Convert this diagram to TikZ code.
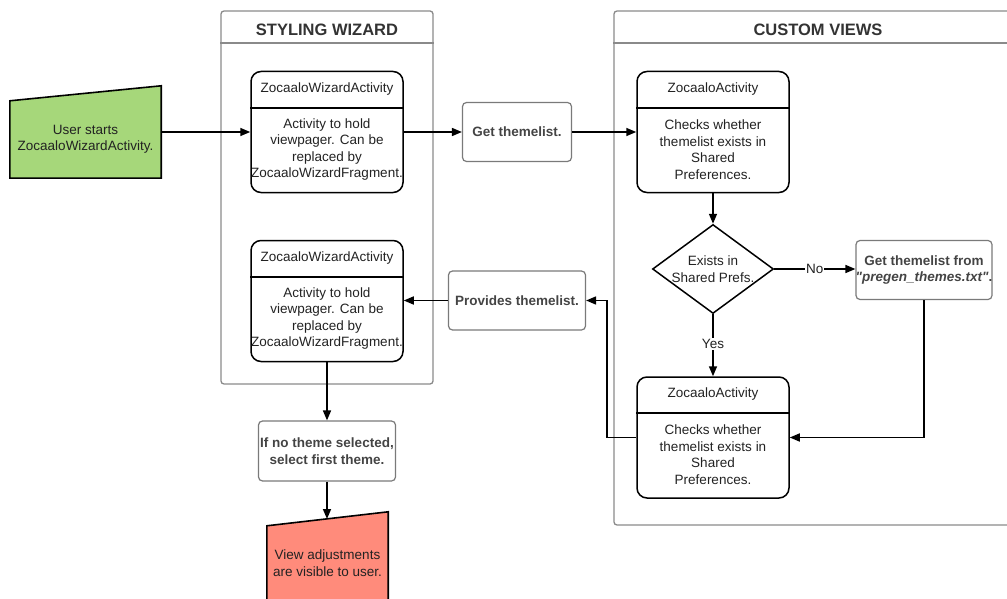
\documentclass[tikz,border=0pt]{standalone}
\usepackage{fontspec}
\setmainfont{Liberation Sans}
\newfontfamily\qfont{Liberation Sans}
\usetikzlibrary{shapes.geometric,arrows.meta}
\definecolor{startgreen}{HTML}{A6D77A}
\definecolor{endred}{HTML}{FF8B7B}
\definecolor{contgray}{HTML}{8A8A8A}
\definecolor{boxgray}{HTML}{7A7A7A}
\definecolor{txtdark}{HTML}{222222}
\definecolor{txtbold}{HTML}{444444}
\tikzset{
  txt/.style={font=\fontsize{13.5}{16.5}\selectfont, text=txtdark, align=center, inner sep=0pt},
  boldtxt/.style={font=\bfseries\fontsize{13.5}{16.5}\selectfont, text=txtbold, align=center, inner sep=0pt},
  titletxt/.style={font=\bfseries\fontsize{16.5}{19}\selectfont, text=black!80, inner sep=0pt},
  cont/.style={draw=contgray, line width=1.3pt, rounded corners=3pt, inner sep=0pt},
  actbox/.style={draw=black, line width=1.5pt, rounded corners=10pt, minimum width=152pt, minimum height=121pt, inner sep=0pt},
  procbox/.style={draw=boxgray, line width=1.2pt, rounded corners=4pt, inner sep=0pt},
  conn/.style={line width=1.6pt, draw=black},
  arr/.style={conn, -{Triangle[length=10pt,width=8pt]}},
  lbl/.style={txt, fill=white, inner sep=1pt},
}
\begin{document}
\begin{tikzpicture}[x=1pt,y=-1pt]
\useasboundingbox (0,0) rectangle (1007,599);
% containers
\node[cont, minimum width=212pt, minimum height=373pt] (sw) at (327,197.5) {};
\draw[contgray, line width=1.3pt] (sw.west |- 0,43) -- (sw.east |- 0,43);
\node[titletxt] (swt) at (327,30) {STYLING WIZARD};
\node[cont, minimum width=410pt, minimum height=514pt] (cv) at (819,268) {};
\draw[contgray, line width=1.3pt] (cv.west |- 0,43) -- (cv.east |- 0,43);
\node[titletxt] (cvt) at (818,30) {CUSTOM VIEWS};
% start
\node[txt, minimum width=151pt, minimum height=77pt] (start) at (85.5,139.5) {};
\draw[conn, fill=startgreen] (start.south west) -- (start.north west) -- ([yshift=15pt]start.north east) -- (start.south east) -- cycle;
\node[txt] (startt) at (85.5,139.5) {User starts\\ZocaaloWizardActivity.};
% WA1
\node[actbox] (wa1) at (327,132) {};
\draw[conn] (wa1.west |- 0,108) -- (wa1.east |- 0,108);
\node[txt] (wa1h) at (327,89) {ZocaaloWizardActivity};
\node[txt] (wa1b) at (327,149.5) {Activity to hold\\viewpager. Can be\\replaced by\\ZocaaloWizardFragment.};
% WA2
\node[actbox] (wa2) at (327,301) {};
\draw[conn] (wa2.west |- 0,277) -- (wa2.east |- 0,277);
\node[txt] (wa2h) at (327,258) {ZocaaloWizardActivity};
\node[txt] (wa2b) at (327,318.5) {Activity to hold\\viewpager. Can be\\replaced by\\ZocaaloWizardFragment.};
% ZA1
\node[actbox] (za1) at (713,132) {};
\draw[conn] (za1.west |- 0,108) -- (za1.east |- 0,108);
\node[txt] (za1h) at (713,89) {ZocaaloActivity};
\node[txt] (za1b) at (713,149.5) {Checks whether\\themelist exists in\\Shared\\Preferences.};
% ZA2
\node[actbox] (za2) at (713,437.5) {};
\draw[conn] (za2.west |- 0,413) -- (za2.east |- 0,413);
\node[txt] (za2h) at (713,394) {ZocaaloActivity};
\node[txt] (za2b) at (713,454.5) {Checks whether\\themelist exists in\\Shared\\Preferences.};
% process boxes
\node[procbox, minimum width=109pt, minimum height=59pt] (get) at (517,132) {};
\node[boldtxt] (gett) at (517,132) {Get themelist.};
\node[procbox, minimum width=137pt, minimum height=59pt] (prov) at (517,300.5) {};
\node[boldtxt] (provt) at (517,300.5) {Provides themelist.};
\node[procbox, minimum width=136pt, minimum height=59pt] (pre) at (924,270) {};
\node[boldtxt] (pret) at (924,270) {Get themelist from\\{\qfont\bfseries\itshape "pregen\_themes.txt"}.};
\node[procbox, minimum width=137pt, minimum height=60pt] (sel) at (327,451) {};
\node[boldtxt] (selt) at (327,451) {If no theme selected,\\select first theme.};
% decision
\node[diamond, draw=black, line width=1.5pt, minimum width=121pt, minimum height=89pt, inner sep=0pt] (dec) at (713,269) {};
\node[txt] (dect) at (713,269) {Exists in\\Shared Prefs.};
% end
\node[txt, minimum width=121pt, minimum height=74pt] (fin) at (327.5,563) {};
\draw[conn, fill=endred] ([yshift=-20pt]fin.south west) -- (fin.north west) -- ([yshift=14pt]fin.north east) -- ([yshift=-20pt]fin.south east) -- cycle;
\node[txt] (fint) at (327.5,563) {View adjustments\\are visible to user.};
\coordinate (finTop) at (327,519);
% connectors
\draw[arr] (start.east |- wa1.west) -- (wa1.west);
\draw[arr] (wa1.east) -- (get.west);
\draw[arr] (get.east) -- (za1.west);
\draw[arr] (za1.south) -- (dec.north);
\draw[arr] (dec.east) -- (pre.west |- dec.east) node[lbl, pos=0.5] (nolbl) {No};
\draw[arr] (dec.south) -- (za2.north) node[lbl, pos=0.48] (yeslbl) {Yes};
\draw[arr] (pre.south) |- (za2.east);
\coordinate (bend) at (607,437.5);
\draw[arr] (za2.west) -- (bend) |- (prov.east);
\draw[arr] (prov.west) -- (wa2.east |- prov.west);
\draw[arr] (wa2.south) -- (sel.north -| wa2.south);
\draw[arr] (sel.south -| finTop) -- (finTop);
\end{tikzpicture}
\end{document}
